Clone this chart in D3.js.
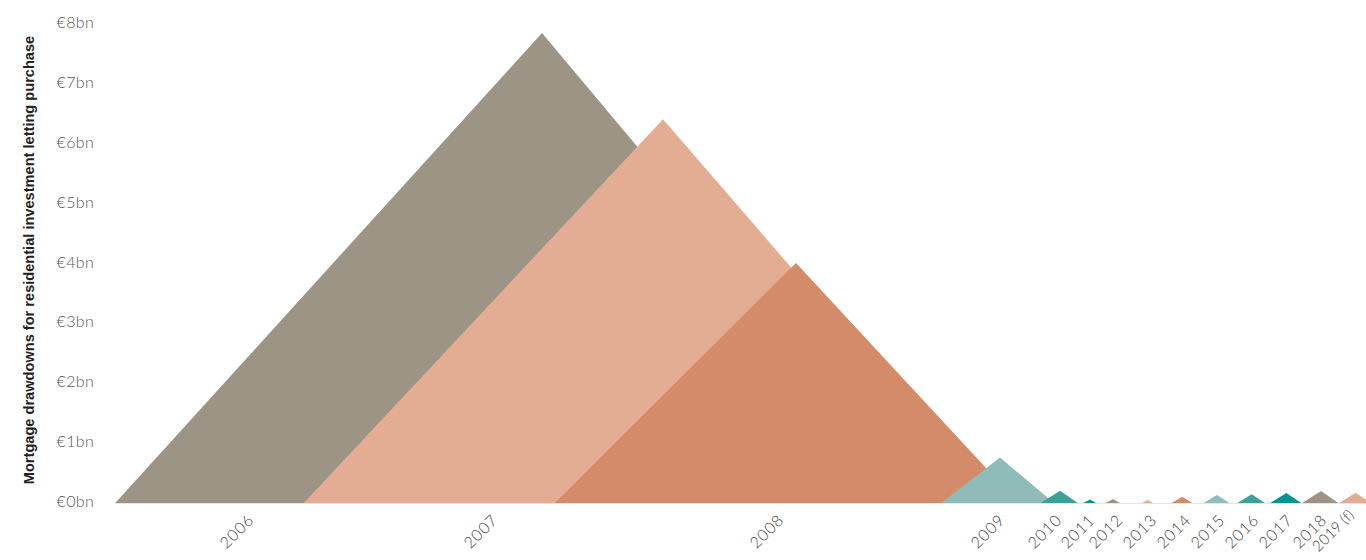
<!DOCTYPE html>
<html>
<head>
<meta charset="utf-8">
<script src="https://cdn.jsdelivr.net/npm/d3@7"></script>
<style>
  html, body { margin: 0; padding: 0; background: #fff; }
  svg { display: block; }
</style>
</head>
<body>
<div id="chart"></div>
<script>
// drawdowns per year, in € billions
const years = ["2006", "2007", "2008", "2009", "2010", "2011", "2012", "2013", "2014", "2015", "2016", "2017", "2018", "2019 (f)"]
const drawdowns = [7.85, 6.41, 4.01, 0.76, 0.205, 0.06, 0.067, 0.05, 0.105, 0.134, 0.145, 0.167, 0.2, 0.172]
const yTicks = [0, 1, 2, 3, 4, 5, 6, 7, 8]
const palette = ["#9c9484", "#e2ad92", "#d38b69", "#8fbbb8", "#3aa198", "#00968f"]

const width = 1366
const height = 560
const font = "Lato, 'Open Sans', sans-serif"

const svg = d3.select("#chart").append("svg")
  .attr("width", width)
  .attr("height", height)

const y = d3.scaleLinear().domain([0, 8]).range([503, 24])

// base width of each triangle grows with the value
const base = d3.scalePow().exponent(0.85).domain([0, 8]).range([0, 834])

// broken time axis: the later years are squeezed together
const xPeak = d3.scaleLinear()
  .domain([2006, 2007, 2008, 2009, 2010, 2011, 2012, 2018])
  .range([542, 663, 796, 1000, 1060, 1090, 1113, 1321])
const xTick = d3.scaleLinear()
  .domain([2006, 2007, 2008, 2009, 2010, 2011, 2012, 2018, 2019])
  .range([255, 499, 785, 1006, 1063, 1096, 1124, 1328, 1355])

const colour = d3.scaleOrdinal().domain(d3.range(palette.length)).range(palette)

const data = years.map((label, i) => ({
  label,
  year: parseInt(label),
  value: drawdowns[i],
  i
}))

// faint base line
svg.append("line")
  .attr("x1", xPeak(2006) - 0.52 * base(drawdowns[0]))
  .attr("x2", width)
  .attr("y1", y(0) + 0.5)
  .attr("y2", y(0) + 0.5)
  .attr("stroke", "#e8e4e0")
  .attr("stroke-width", 1)

svg.append("g")
  .selectAll("path")
  .data(data)
  .join("path")
    .attr("fill", d => colour(d.i % palette.length))
    .attr("d", d => {
      const cx = xPeak(d.year)
      const w = base(d.value)
      return `M${cx - 0.52 * w},${y(0)}L${cx},${y(d.value)}L${cx + 0.48 * w},${y(0)}Z`
    })

// y axis labels
svg.append("g")
  .selectAll("text")
  .data(yTicks)
  .join("text")
    .attr("x", 94)
    .attr("y", d => y(d) - 1.5)
    .attr("dy", "0.35em")
    .attr("text-anchor", "end")
    .attr("font-family", font)
    .attr("font-weight", 300)
    .attr("font-size", 16)
    .attr("letter-spacing", 0.3)
    .attr("fill", "#555")
    .text(d => `€${d}bn`)

// year labels
svg.append("g")
  .selectAll("text")
  .data(data)
  .join("text")
    .attr("transform", d => `translate(${xTick(d.year)},${d.label.length > 4 ? 516 : 521}) rotate(-45)`)
    .attr("text-anchor", "end")
    .attr("font-family", font)
    .attr("font-weight", 300)
    .attr("font-size", d => d.label.length > 4 ? 15 : 16)
    .attr("letter-spacing", d => d.label.length > 4 ? 0 : 0.8)
    .attr("fill", "#444")
    .text(d => d.label)

svg.append("text")
  .attr("transform", "translate(34,260) rotate(-90)")
  .attr("text-anchor", "middle")
  .attr("font-family", "'Liberation Sans', Arial, sans-serif")
  .attr("font-weight", "bold")
  .attr("font-size", 14.6)
  .attr("fill", "#222")
  .text("Mortgage drawdowns for residential investment letting purchase")
</script>
</body>
</html>
